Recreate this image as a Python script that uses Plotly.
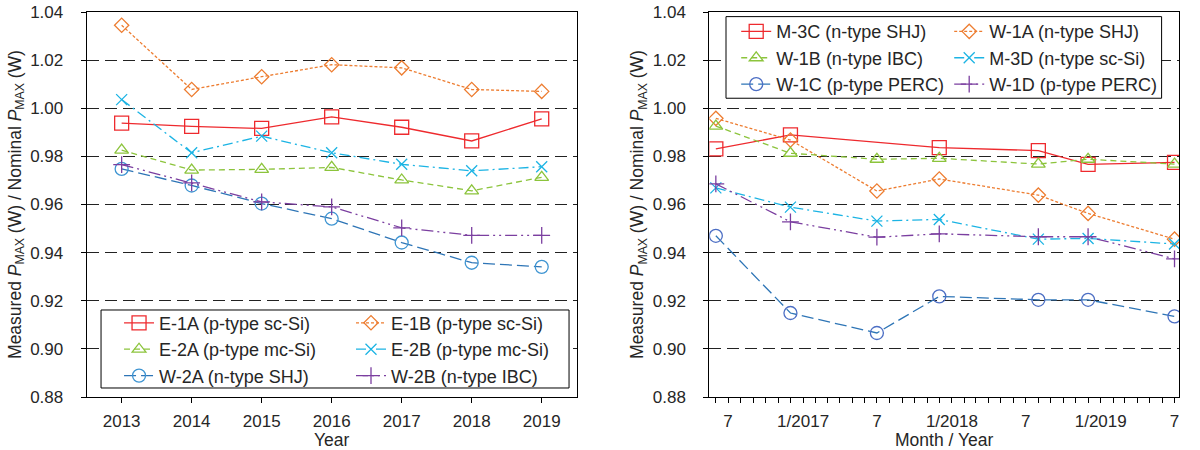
import plotly.graph_objects as go
from plotly.subplots import make_subplots

# ---- left panel: yearly data ----
years = [2013, 2014, 2015, 2016, 2017, 2018, 2019]
e1a = [0.9938, 0.9925, 0.9916, 0.9964, 0.9921, 0.9864, 0.9956]
e1b = [1.0345, 1.0078, 1.0131, 1.0181, 1.0168, 1.0078, 1.0070]
e2a = [0.9826, 0.9743, 0.9746, 0.9754, 0.9702, 0.9657, 0.9713]
e2b = [1.0036, 0.9815, 0.9884, 0.9815, 0.9767, 0.9740, 0.9757]
w2a = [0.9748, 0.9679, 0.9604, 0.9541, 0.9442, 0.9358, 0.9341]
w2b = [0.9766, 0.9690, 0.9611, 0.9590, 0.9503, 0.9472, 0.9472]

# ---- right panel: monthly data ----
dates = ['2016-06-01', '2016-12-01', '2017-07-01', '2017-12-01',
         '2018-08-01', '2018-12-01', '2019-07-01']
m3c = [0.9831, 0.9889, None, 0.9836, 0.9824, 0.9767, 0.9775]
w1a = [0.9958, 0.9868, 0.9656, 0.9706, 0.9639, 0.9563, 0.9456]
w1b = [0.9926, 0.9813, 0.9788, 0.9792, 0.9768, 0.9788, 0.9768]
m3d = [0.9669, 0.9589, 0.9531, 0.9538, 0.9456, 0.9459, 0.9436]
w1c = [0.9470, 0.9149, 0.9066, 0.9218, 0.9204, 0.9204, 0.9135]
w1d = [0.9686, 0.9528, 0.9464, 0.9478, 0.9466, 0.9466, 0.9374]

month_ticks = ['2016-07-01', '2017-01-01', '2017-07-01', '2018-01-01',
               '2018-07-01', '2019-01-01', '2019-07-01']
month_labels = ['7', '1/2017', '7', '1/2018', '7', '1/2019', '7']

FONT = 'Liberation Sans, Arial, sans-serif'
TXT = '#262626'

# series styles: (color, marker symbol, marker size, dash)
styles = [
    ('#EE2A2E', 'square-open', 14, 'solid'),
    ('#ED7D31', 'diamond-open', 11, '3px,2px'),
    ('#8CC43C', 'triangle-up-open', 12, '6px,4px'),
    ('#1CB4E4', 'x-thin-open', 11, '10px,4px,2px,4px'),
    ('#2E75B6', 'circle-open', 13, '12px,5px'),
    ('#7B3FA0', 'cross-thin-open', 12, '12px,4px,2px,4px,2px,4px'),
]

fig = make_subplots(rows=1, cols=2)

left = [('E-1A (p-type sc-Si)', e1a), ('E-1B (p-type sc-Si)', e1b),
        ('E-2A (p-type mc-Si)', e2a), ('E-2B (p-type mc-Si)', e2b),
        ('W-2A (n-type SHJ)', w2a), ('W-2B (n-type IBC)', w2b)]
right = [('M-3C (n-type SHJ)', m3c), ('W-1A (n-type SHJ)', w1a),
         ('W-1B (n-type IBC)', w1b), ('M-3D (n-type sc-Si)', m3d),
         ('W-1C (p-type PERC)', w1c), ('W-1D (p-type PERC)', w1d)]

circle_cols = ['#3F95D2', '#4C6EC4']

for i, (name, vals) in enumerate(left):
    col, sym, size, dash = styles[i]
    mcol = circle_cols[0] if sym == 'circle-open' else col
    fig.add_trace(go.Scatter(x=years, y=vals, name=name, mode='lines+markers',
                             line=dict(color=col, width=1.3, dash=dash),
                             marker=dict(symbol=sym, size=size, color=mcol,
                                         line=dict(width=1.3, color=mcol)),
                             legend='legend' if i % 2 == 0 else 'legend2'),
                  row=1, col=1)

for i, (name, vals) in enumerate(right):
    col, sym, size, dash = styles[i]
    mcol = circle_cols[1] if sym == 'circle-open' else col
    fig.add_trace(go.Scatter(x=dates, y=vals, name=name, mode='lines+markers',
                             connectgaps=True,
                             line=dict(color=col, width=1.3, dash=dash),
                             marker=dict(symbol=sym, size=size, color=mcol,
                                         line=dict(width=1.3, color=mcol)),
                             legend='legend3' if i % 2 == 0 else 'legend4'),
                  row=1, col=2)

ytitle = 'Measured <i>P</i><sub>MAX</sub> (W) / Nominal <i>P</i><sub>MAX</sub> (W)'
yaxis_common = dict(range=[0.88, 1.04], tickvals=[0.88 + 0.02 * k for k in range(9)],
                    tickformat='.2f', showline=True, mirror=True, linecolor='black',
                    linewidth=1, ticks='outside', ticklen=5, tickcolor='black',
                    showgrid=True, gridcolor='#222', gridwidth=1.2, griddash='12px,6px',
                    zeroline=False, ticklabelstandoff=14, automargin=False,
                    tickfont=dict(size=17, color=TXT),
                    title=dict(text=ytitle, font=dict(size=17.5, color=TXT), standoff=4))
fig.update_yaxes(**yaxis_common)

fig.update_xaxes(range=[2012.5, 2019.5], tickvals=years, showline=True, mirror=True,
                 linecolor='black', linewidth=1, ticks='outside', ticklen=5,
                 tickcolor='black', showgrid=False, zeroline=False, automargin=False,
                 ticklabelstandoff=4, tickfont=dict(size=17, color=TXT),
                 title=dict(text='Year', font=dict(size=17.5, color=TXT), standoff=11),
                 domain=[0.0722, 0.4806], row=1, col=1)
fig.update_xaxes(type='date', range=['2016-05-16', '2019-07-12'],
                 tickvals=month_ticks, ticktext=month_labels, showline=True,
                 mirror=True, linecolor='black', linewidth=1, ticks='outside',
                 ticklen=5, tickcolor='black', showgrid=False, zeroline=False,
                 automargin=False, ticklabelstandoff=4,
                 minor=dict(ticks='outside', ticklen=5, tickcolor='black',
                            dtick='M1', tick0='2016-01-01', showgrid=False),
                 tickfont=dict(size=17, color=TXT),
                 title=dict(text='Month / Year', font=dict(size=17.5, color=TXT), standoff=11),
                 domain=[0.5911, 0.9825], row=1, col=2)

leg = dict(bgcolor='rgba(0,0,0,0)', borderwidth=0, font=dict(size=18, color=TXT),
           xanchor='left', yanchor='top', tracegroupgap=0, itemclick=False)
fig.update_layout(
    legend=dict(leg, x=0.0992, y=0.240),
    legend2=dict(leg, x=0.2925, y=0.240),
    legend3=dict(leg, x=0.6135, y=0.997),
    legend4=dict(leg, x=0.791, y=0.997),
    shapes=[
        dict(type='rect', xref='paper', yref='paper', x0=0.0842, x1=0.4742,
             y0=0.0234, y1=0.226, fillcolor='white', line=dict(color='black', width=1),
             layer='above'),
        dict(type='rect', xref='paper', yref='paper', x0=0.605, x1=0.968,
             y0=0.776, y1=0.988, fillcolor='white', line=dict(color='black', width=1),
             layer='above'),
    ],
    width=1200, height=450,
    margin=dict(l=0, r=0, t=12, b=53),
    paper_bgcolor='white', plot_bgcolor='white',
    font=dict(family=FONT, color=TXT),
)

# the page body has a default 8px margin; drop it so the figure sits at 0,0
fig.write_html("out.html", config={'displayModeBar': False},
               post_script="document.body.style.margin='0';")
